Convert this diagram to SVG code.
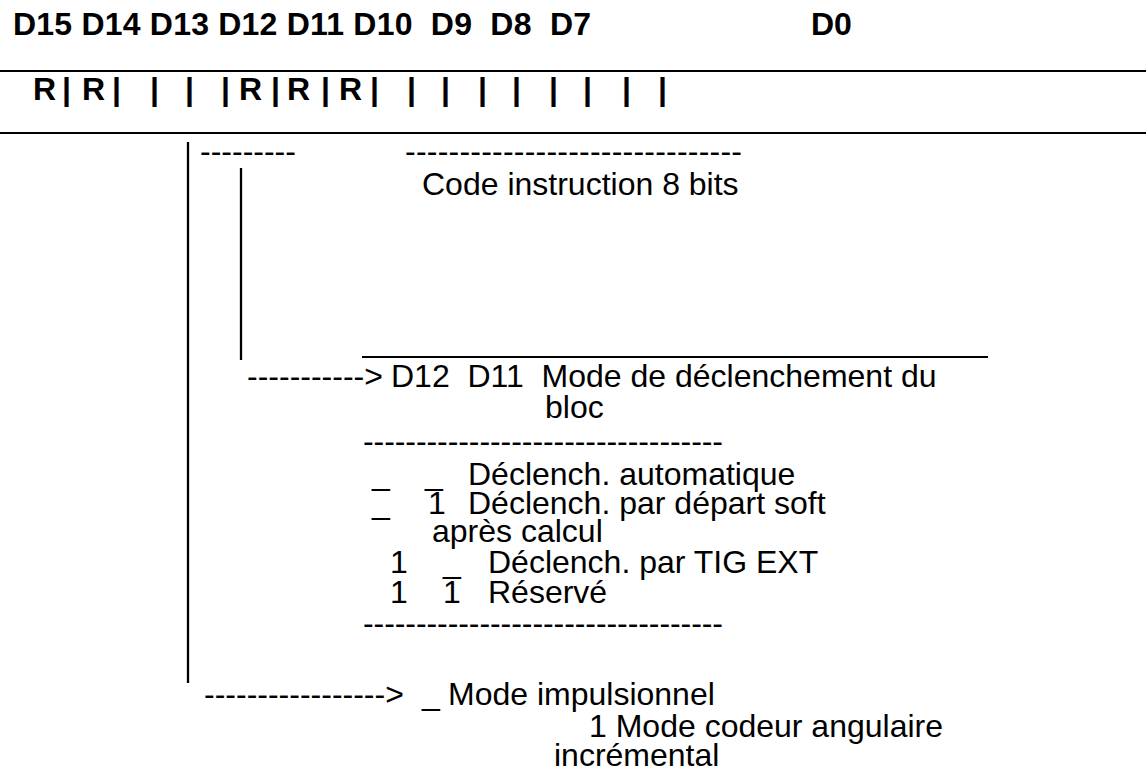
<svg xmlns="http://www.w3.org/2000/svg" width="1146" height="776" viewBox="0 0 1146 776">
<style>
text{font-family:"Liberation Sans",Arial,sans-serif;font-size:32px;fill:#000;white-space:pre}
.b{font-weight:bold}
.rule{stroke:#000;stroke-width:2}
.bar{stroke:#000;stroke-width:2.3}
</style>
<rect width="1146" height="776" fill="#fff"/>
<g id="header">
<text class="b" x="13" y="35" textLength="578" lengthAdjust="spacing">D15 D14 D13 D12 D11 D10  D9  D8  D7</text>
<text class="b" x="811" y="35">D0</text>
<line class="rule" x1="0" y1="71" x2="1146" y2="71"/>
<g id="register">
<text class="b" x="33" y="100">R</text>
<text class="b" x="62" y="100">|</text>
<text class="b" x="82" y="100">R</text>
<text class="b" x="112" y="100">|</text>
<text class="b" x="150" y="100">|</text>
<text class="b" x="185" y="100">|</text>
<text class="b" x="221" y="100">|</text>
<text class="b" x="239" y="100">R</text>
<text class="b" x="271" y="100">|</text>
<text class="b" x="287" y="100">R</text>
<text class="b" x="321" y="100">|</text>
<text class="b" x="339" y="100">R</text>
<text class="b" x="370" y="100">|</text>
<text class="b" x="407" y="100">|</text>
<text class="b" x="441" y="100">|</text>
<text class="b" x="478" y="100">|</text>
<text class="b" x="512" y="100">|</text>
<text class="b" x="549" y="100">|</text>
<text class="b" x="583" y="100">|</text>
<text class="b" x="622" y="100">|</text>
<text class="b" x="658" y="100">|</text>
</g>
<line class="rule" x1="0" y1="133" x2="1146" y2="133"/>
</g>
<g id="connectors">
<line class="bar" x1="188" y1="142" x2="188" y2="683"/>
<line class="bar" x1="241" y1="168" x2="241" y2="360"/>
<line class="rule" x1="362" y1="357" x2="988" y2="357"/>
<text x="200" y="162">---------</text>
<text x="247" y="387">-----------&gt;</text>
<text x="204" y="705">-----------------&gt;</text>
</g>
<g id="code">
<text x="405" y="162" textLength="337" lengthAdjust="spacing">-------------------------------</text>
<text x="422" y="195">Code instruction 8 bits</text>
</g>
<g id="trigger">
<text x="391" y="387">D12  D11  Mode de déclenchement du</text>
<text x="545" y="418">bloc</text>
<text x="363" y="452" textLength="360" lengthAdjust="spacing">----------------------------------</text>
<text x="372" y="485">_</text><text x="425" y="485">_</text><text x="468" y="485">Déclench. automatique</text>
<text x="372" y="514">_</text><text x="428" y="514">1</text><text x="468" y="514">Déclench. par départ soft</text>
<text x="432" y="542">après calcul</text>
<text x="390" y="573">1</text><text x="443" y="573">_</text><text x="488" y="573">Déclench. par TIG EXT</text>
<text x="390" y="603">1</text><text x="443" y="603">1</text><text x="488" y="603">Réservé</text>
<text x="363" y="634" textLength="360" lengthAdjust="spacing">----------------------------------</text>
</g>
<g id="mode">
<text x="422" y="705">_</text>
<text x="448" y="705">Mode impulsionnel</text>
<text x="589" y="737">1 Mode codeur angulaire</text>
<text x="554" y="766">incrémental</text>
</g>
</svg>
